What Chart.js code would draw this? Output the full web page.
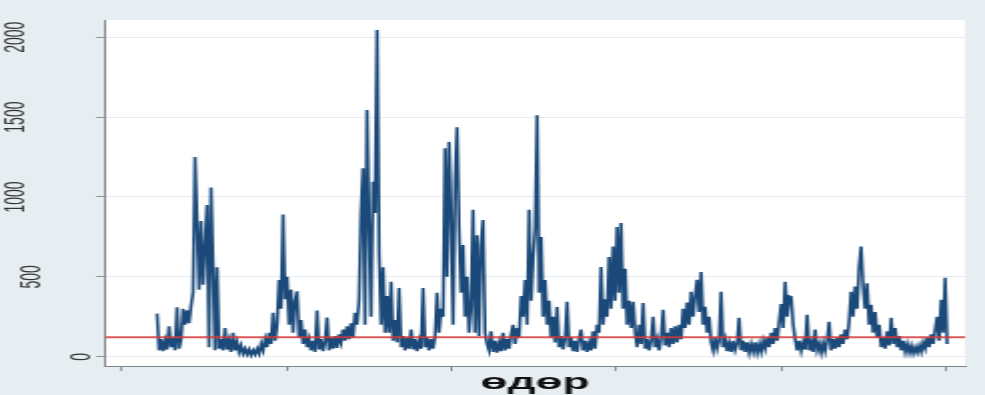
<!DOCTYPE html>
<html>
<head>
<meta charset="utf-8">
<script src="https://cdn.jsdelivr.net/npm/chart.js@4/dist/chart.umd.min.js"></script>
<style>
  html, body { margin: 0; padding: 0; background: #e7eef1; overflow: hidden; }
  #wrap { width: 492px; height: 395px; transform: scale(2.002, 1); transform-origin: 0 0; }
  canvas { display: block; }
</style>
</head>
<body>
<div id="wrap"><canvas id="c" width="492" height="395"></canvas></div>
<script>
// ---- data (one value per ~2 px of the original) ----
const season1 = [270,40,110,35,100,45,190,60,120,40,310,50,110,300,200,290,210,320,400,1250,
  850,420,850,450,700,950,60,1060,580,40,560,50];
const season2 = [110,40,180,45,100,30,150,40,90,30,70,20,50,15,45,10,40,15,50,20,
  80,40,110,60,150,80,275,100,200,480,
  300,890,360,500,200,420,150,350,410,120,230,80,170,60];
const season3 = [110,40,100,30,290,45,110,35,90,245,40,120,50,130,55,140,90,170,100,190,110,210,120,
  275,200,350,900,1180,200,1545,850,250,1095,900,2045,650,200,560,150,380,150,470,100,230,90,430];
const season4 = [60,130,40,120,50,170,45,110,35,100,50,430,60,120,40,110,50,130,400,150,300,250,
  1305,500,1345,900,200,1100,1437,800,400,700,250,500,150,300,920,150,760,130,700,856,150,80];
const season5 = [40,160,30,100,25,90,35,150,40,110,50,140,200,80,180,120,
  380,250,480,200,920,350,625,800,1512,400,750,250,480,200,350,120,250,90];
const season6 = [312,60,130,45,110,344,60,120,35,100,30,110,170,40,100,30,90,40,160,50,200,
  150,562,200,360,250,625,300,690,350,812,400,837,300,550,200,350,180,344];
const season7 = [150,60,200,80,337,50,110,40,100,250,60,110,40,120,294,70,150,60,180,80,190,90,200,110,
  300,180,340,200,406,250,380,481,280,531,200,312,150,250];
const season8 = [90,40,120,50,100,406,60,110,35,90,30,100,40,80,244,40,100,30,90,25,80,30,90,25,80,30,100,50,120,60,150,80,180,100,
  220,330,180,469,250,380,375,200,110];
const season9 = [40,100,35,90,45,262,40,90,30,170,40,80,25,90,35,100,219,40,110,50,120,60,140,80,170,110,220,
  406,250,440,300,560,690,440,300,460,200,325,150,280,120,200];
const season10 = [60,120,50,160,70,244,80,180,60,130,40,100,30,80,25,70,20,60,25,70,30,90,50,120,60,140,80,170,
  250,100,356,150,494,80];

const seriesValues = [].concat(season1, season2, season3, season4, season5, season6, season7, season8, season9, season10);
const firstDay = 155;          // first observed day
const lastDay = 3655;          // last observed day
const thresholdValue = 122;    // red reference line
const xTickDays = [0, 730, 1460, 2190, 2920, 3650];
const yTickValues = [0, 500, 1000, 1500, 2000];
const yTickLabels = ['0', '500', '1000', '1500', '2000'];
const xTitle = 'өдөр';
const xMin = -75, xMax = 3734, yMin = -58, yMax = 2108;

// ---- build points ----
const n = seriesValues.length;
const dayStep = (lastDay - firstDay) / (n - 1);
const seriesPoints = seriesValues.map((v, i) => ({ x: firstDay + i * dayStep, y: v }));
const thresholdPoints = [{ x: xMin, y: thresholdValue }, { x: xMax, y: thresholdValue }];

// style: blank lines placed before some rotated labels (shift them right like in the reference)
const yLabelLeadLines = { 0: 4, 500: 1 };

const plotBg = {
  id: 'plotBg',
  beforeDraw(chart) {
    const { ctx, chartArea: a } = chart;
    ctx.save();
    ctx.fillStyle = '#ffffff';
    ctx.fillRect(a.left, a.top, a.right - a.left, a.bottom - a.top);
    ctx.restore();
  }
};

function zeroPad(s) { s.paddingTop = 0; s.paddingBottom = 0; s.paddingLeft = 0; s.paddingRight = 0; }

new Chart(document.getElementById('c'), {
  type: 'line',
  data: {
    datasets: [
      {
        data: thresholdPoints,
        borderColor: 'rgba(214,58,58,0.85)',
        borderWidth: 2,
        pointRadius: 0,
        order: 0
      },
      {
        data: seriesPoints,
        borderColor: '#1b4a7a',
        borderWidth: 1.6,
        pointRadius: 0,
        tension: 0,
        order: 1
      }
    ]
  },
  options: {
    responsive: false,
    animation: false,
    devicePixelRatio: 1,
    layout: { padding: { top: 20, right: 10, bottom: 0, left: 0 } },
    plugins: { legend: { display: false }, tooltip: { enabled: false } },
    scales: {
      x: {
        type: 'linear',
        min: xMin, max: xMax,
        afterBuildTicks: s => { s.ticks = xTickDays.map(v => ({ value: v })); },
        afterFit: s => { s.height = 29; zeroPad(s); },
        ticks: { display: false },
        grid: { drawOnChartArea: false, drawTicks: true, tickLength: 5, tickColor: '#8a9296' },
        border: { color: '#7d858a', width: 1 },
        title: {
          display: true, text: xTitle, color: '#111',
          font: { family: "'Liberation Sans', Arial, sans-serif", size: 22, weight: 'bold', lineHeight: 1 },
          padding: { top: 0, bottom: 1 }
        }
      },
      y: {
        type: 'linear',
        min: yMin, max: yMax,
        afterBuildTicks: s => { s.ticks = yTickValues.map(v => ({ value: v })); },
        afterFit: s => { s.width = 52.5; zeroPad(s); },
        ticks: {
          autoSkip: false,
          minRotation: 90, maxRotation: 90,
          crossAlign: 'center',
          padding: 24.5,
          color: '#333',
          font: { family: "'Liberation Sans', Arial, sans-serif", size: 14, lineHeight: 1.2 },
          callback: v => {
            const t = yTickLabels[yTickValues.indexOf(v)];
            const k = yLabelLeadLines[v] || 0;
            return k ? Array(k).fill('').concat([t]) : t;
          }
        },
        grid: { color: '#e6edf1', lineWidth: 1, drawTicks: true, tickLength: 4.5, tickColor: '#8a9296' },
        border: { color: '#7d858a', width: 1 }
      }
    }
  },
  plugins: [plotBg]
});
</script>
</body>
</html>
